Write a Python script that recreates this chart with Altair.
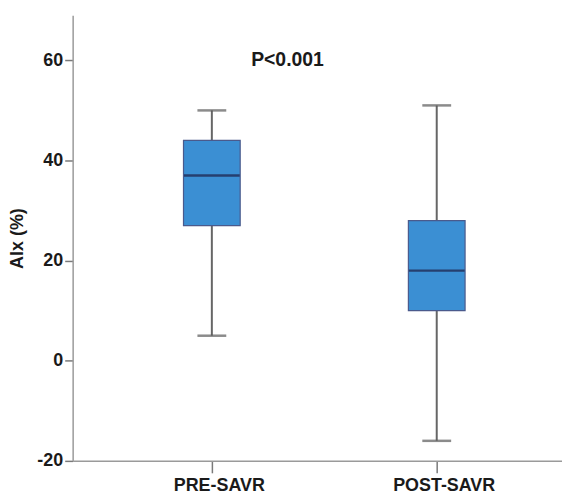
import altair as alt
import pandas as pd

groups = ["PRE-SAVR", "POST-SAVR"]
mins = [5, -16]
q1s = [27, 10]
medians = [37, 18]
q3s = [44, 28]
maxs = [50, 51]
y_ticks = [-20, 0, 20, 40, 60]
annot_text = ["P<0.001"]
annot_y = [60]

df = pd.DataFrame({"group": groups, "min": mins, "q1": q1s,
                   "median": medians, "q3": q3s, "max": maxs})
ann = pd.DataFrame({"label": annot_text, "y": annot_y})

FONT = "Liberation Sans"
SHIFT = 7

x_enc = alt.X(
    "group:N", sort=groups,
    scale=alt.Scale(type="point", padding=0.588),
    axis=alt.Axis(title=None, labelAngle=0, labelFont=FONT, labelFontSize=18,
                  labelFontWeight="bold", labelColor="#1a1a1a", tickSize=12,
                  labelPadding=4, domainColor="#9a9a9a", tickColor="#7a7a7a",
                  domainWidth=1.5, tickWidth=1.5, tickOffset=SHIFT, labelOffset=SHIFT),
)
y_scale = alt.Scale(domain=[-20, 69], nice=False, zero=False)
y_axis = alt.Axis(values=y_ticks, title="AIx (%)", titleFont=FONT, titleFontSize=18,
                  titleFontWeight="bold", titleColor="#1a1a1a", titleX=-55, titleY=224,
                  titleBaseline="middle", titleAlign="center",
                  labelExpr="datum.value < 0 ? '-' + abs(datum.value) : '' + datum.value",
                  labelFont=FONT, labelFontSize=18, labelFontWeight="bold",
                  labelColor="#1a1a1a", tickSize=8, labelPadding=2, grid=False,
                  domainColor="#9a9a9a", tickColor="#7a7a7a", domainWidth=1.5, tickWidth=1.5)

base = alt.Chart(df)

whisk = base.mark_rule(color="#666666", strokeWidth=2, xOffset=SHIFT).encode(
    x=x_enc, y=alt.Y("min:Q", scale=y_scale, axis=y_axis), y2="max:Q")
box = base.mark_bar(size=57, color="#3b8fd3", stroke="#4a5a8c", strokeWidth=1.2,
                    xOffset=SHIFT).encode(
    x=x_enc, y=alt.Y("q1:Q", scale=y_scale), y2="q3:Q")
med = base.mark_tick(size=56, thickness=2.5, color="#1c1c44", xOffset=SHIFT).encode(
    x=x_enc, y=alt.Y("median:Q", scale=y_scale))
cap_lo = base.mark_tick(size=29, thickness=2.5, color="#5a5a5a", xOffset=SHIFT).encode(
    x=x_enc, y=alt.Y("min:Q", scale=y_scale))
cap_hi = base.mark_tick(size=29, thickness=2.5, color="#5a5a5a", xOffset=SHIFT).encode(
    x=x_enc, y=alt.Y("max:Q", scale=y_scale))
text = alt.Chart(ann).mark_text(font=FONT, fontSize=19.5, fontWeight="bold",
                                color="#1a1a1a", baseline="middle").encode(
    x=alt.value(216), y=alt.Y("y:Q", scale=y_scale), text="label:N")

chart = alt.layer(whisk, box, med, cap_lo, cap_hi, text).properties(
    width=492, height=448,
    autosize=alt.AutoSizeParams(type="none"),
    padding={"left": 65, "top": 6, "right": 0, "bottom": 34},
    background="white",
).configure_view(stroke=None)

chart.save("out.html", embed_options={"renderer": "svg", "actions": False})
